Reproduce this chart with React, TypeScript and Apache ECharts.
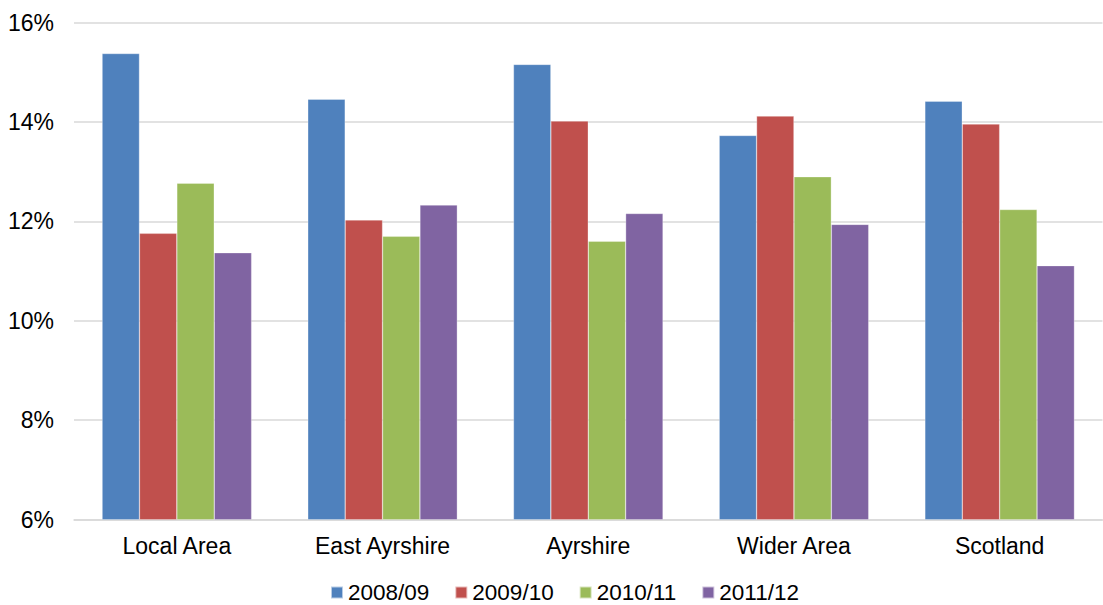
import React, { useEffect, useRef } from "react";
import * as echarts from "echarts";

const categories = ["Local Area", "East Ayrshire", "Ayrshire", "Wider Area", "Scotland"];
const seriesNames = ["2008/09", "2009/10", "2010/11", "2011/12"];
const values2008 = [15.38, 14.46, 15.16, 13.73, 14.42];
const values2009 = [11.76, 12.03, 14.02, 14.12, 13.96];
const values2010 = [12.77, 11.7, 11.6, 12.9, 12.24];
const values2011 = [11.37, 12.33, 12.16, 11.94, 11.11];
const colors = ["#4F81BD", "#C0504D", "#9BBB59", "#8064A2"];

const FONT = "'Liberation Sans', Arial, sans-serif";

export default function App() {
  const ref = useRef<HTMLDivElement>(null);

  useEffect(() => {
    if (!ref.current) return;
    const chart = echarts.init(ref.current, undefined, { renderer: "svg" });
    const allValues = [values2008, values2009, values2010, values2011];
    chart.setOption({
      animation: false,
      backgroundColor: "#ffffff",
      color: colors,
      textStyle: { fontFamily: FONT },
      grid: { left: 74, right: 0.5, top: 22.7, bottom: 85.5, containLabel: false },
      legend: {
        top: 581,
        left: 330,
        padding: 0,
        itemWidth: 12,
        itemHeight: 12,
        itemGap: 25,
        icon: "rect",
        textStyle: { fontSize: 22.5, color: "#000", fontFamily: FONT },
        data: seriesNames,
      },
      xAxis: {
        type: "category",
        data: categories,
        axisLine: { show: true, lineStyle: { color: "#D9D9D9", width: 1.5 } },
        axisTick: { show: false },
        axisLabel: { fontSize: 23, color: "#000", margin: 15, fontFamily: FONT },
      },
      yAxis: {
        type: "value",
        min: 6,
        max: 16,
        interval: 2,
        axisLine: { show: false },
        axisTick: { show: false },
        splitLine: { lineStyle: { color: "#D9D9D9", width: 1.5 } },
        axisLabel: { fontSize: 23, color: "#000", margin: 20, formatter: "{value}%", fontFamily: FONT },
      },
      series: seriesNames.map((name, i) => ({
        name,
        type: "bar",
        data: allValues[i],
        barGap: "0%",
        barCategoryGap: "27.3%",
        itemStyle: { color: colors[i], borderColor: "rgba(255,255,255,0.6)", borderWidth: 0.5 },
      })),
    });
    return () => chart.dispose();
  }, []);

  return (
    <div
      ref={ref}
      style={{ position: "absolute", left: 0, top: 0, width: 1103, height: 605 }}
    />
  );
}
